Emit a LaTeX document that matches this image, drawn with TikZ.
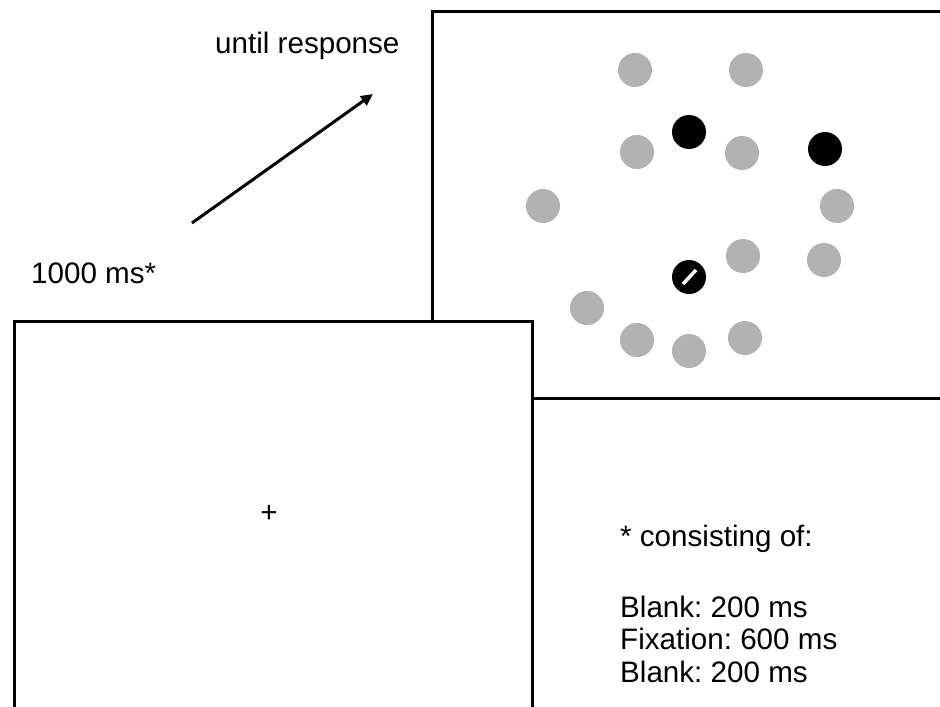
\documentclass[tikz,border=0pt]{standalone}
\usepackage{fontspec}
\setmainfont{Liberation Sans}
\usetikzlibrary{arrows.meta}
\frenchspacing
\begin{document}
\begin{tikzpicture}[x=1pt,y=-1pt,
  frame/.style={draw=black, line width=3pt, fill=white},
  distractor/.style={circle, fill=black!30, minimum size=34pt, inner sep=0pt},
  target/.style={circle, fill=black, minimum size=34pt, inner sep=0pt},
  label/.style={font=\fontsize{29.6}{33}\selectfont, inner sep=0pt, anchor=base west},
  timeline/.style={line width=3pt, -{Triangle[length=12pt,width=11pt]}}
]
\useasboundingbox (0,0) rectangle (940,707);
\clip (0,0) rectangle (940,707);

% search display (behind)
\draw[frame] (432,11.5) rectangle (960,398);
\node[distractor] (g1)  at (635,70)  {};
\node[distractor] (g2)  at (746,70)  {};
\node[distractor] (g3)  at (637,152) {};
\node[distractor] (g4)  at (742,153) {};
\node[distractor] (g5)  at (543,206) {};
\node[distractor] (g6)  at (837,206) {};
\node[distractor] (g7)  at (743,256) {};
\node[distractor] (g8)  at (824,260) {};
\node[distractor] (g9)  at (587,308) {};
\node[distractor] (g10) at (637,340) {};
\node[distractor] (g11) at (689,351) {};
\node[distractor] (g12) at (745,338) {};
\node[target] (b1) at (689,132) {};
\node[target] (b2) at (825,149) {};
\node[target] (tgt) at (689,277) {};
\draw[white, line width=3.5pt] ([shift={(-6,7)}]tgt.center) -- ([shift={(7,-7)}]tgt.center);

% fixation display (front)
\draw[frame] (14.5,321) rectangle (532,708.5);
\node[font=\fontsize{29.6}{33}\selectfont, inner sep=0pt] (fix) at (269,514) {+};

% time arrow
\coordinate (arrowtail) at (192,223);
\coordinate (arrowhead) at (373,94);
\draw[timeline] (arrowtail) -- (arrowhead);

% labels
\node[label] (until) at (215,53) {until response};
\node[label] (soa) at (31,283) {1000 ms*};
\node[label] (note) at (620,546) {* consisting of:};
\node[label] (blank1) at (620,617) {Blank: 200 ms};
\node[label] (fixation) at (620,649.5) {Fixation: 600 ms};
\node[label] (blank2) at (620,682) {Blank: 200 ms};
\end{tikzpicture}
\end{document}
